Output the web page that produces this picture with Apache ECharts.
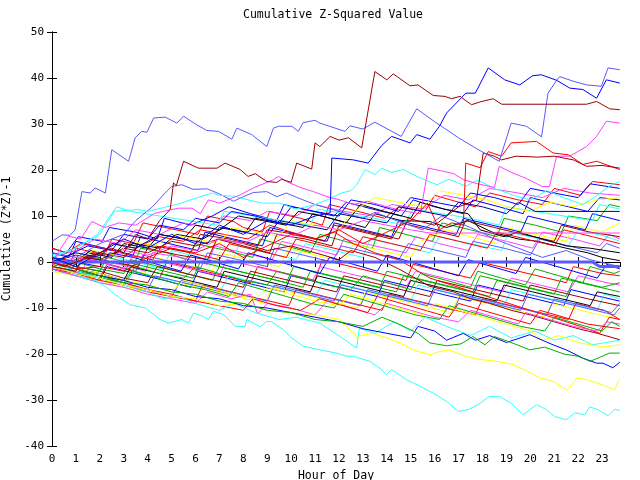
<!DOCTYPE html>
<html>
<head>
<meta charset="utf-8">
<title>Cumulative Z-Squared Value</title>
<script src="https://cdn.jsdelivr.net/npm/echarts@6/dist/echarts.min.js"></script>
<style>
  html, body { margin: 0; padding: 0; background: #fff; }
  #chart { width: 640px; height: 480px; }
</style>
</head>
<body>
<div id="chart"></div>
<script>
  "use strict";

  // ── Axis ranges / ticks ──
  var X_MIN = 0, X_MAX = 23.75, X_STEP = 1;
  var Y_MIN = -40, Y_MAX = 50, Y_STEP = 10;

  // ── Colours (gnuplot-ish palette) ──
  var RED = "#ff0000", GREEN = "#00b000", BLUE = "#0000ff", MAGENTA = "#ff40ff",
      CYAN = "#30ffff", DARKRED = "#a00000", YELLOW = "#ffff00", BLACK = "#000000",
      LIGHTBLUE = "#5a5aff", NAVY = "#0000a0";

  // ── Series as [hour, value] vertices ──
  var topLightBlue = [[0,4.5],[0.42,5.9],[0.75,5.8],[0.97,7],[1.25,15.3],[1.6,15],[1.8,16.1],[2.23,15],[2.3,15.3],[2.5,24.4],[3.2,21.9],[3.48,27],[3.75,28.4],[3.97,28.2],[4.25,31.3],[4.73,31.5],[5.22,30.2],[5.5,31.7],[6.06,29.8],[6.47,28.6],[6.96,28.4],[7.52,26.7],[7.73,29.1],[8.35,27.7],[8.98,25.1],[9.26,29.1],[9.47,29.5],[10.03,29.5],[10.3,28.4],[10.5,30.3],[11.0,30.8],[11.2,30.2],[12.25,28.4],[12.46,29.6],[13.0,28.9],[13.5,30.4],[14.6,27.3],[15.25,33.3],[16.0,30.5],[17.0,27],[17.8,24.5],[18.7,21.9],[19.2,30.2],[19.84,29.5],[20.47,27.2],[20.74,36.7],[21.1,39.5],[21.23,40.3],[21.8,39.3],[22.35,38.5],[22.97,38.2],[23.25,42.2],[23.74,41.8]];
  var topBlue = [[0,1],[1,-1],[2,2],[3,5],[4,3],[5,6],[6,4],[7,8],[8,6],[9,9],[10,8],[11,10],[11.63,10.7],[11.7,22.6],[12.6,22.2],[13.22,21.5],[13.78,25.3],[14.2,27.3],[14.97,25.9],[15.25,27.7],[15.8,26.7],[16.2,29.5],[16.5,32.4],[17.1,35.6],[17.3,36.7],[17.7,36.7],[18.24,42.2],[18.93,39.6],[19.56,38.5],[20.1,40.5],[20.46,40.7],[21.1,39.5],[21.65,37.8],[22.2,37.5],[22.77,35.6],[23.18,39.6],[23.74,38.9]];
  var topDarkRed = [[0,0],[0.5,-1],[1.5,1],[2.5,3],[3,2],[3.5,6],[4,5],[4.5,9],[4.94,11.4],[5.08,17.2],[5.2,16.6],[5.5,21.9],[6.12,20.4],[6.9,20.4],[7.24,21.5],[7.87,20.1],[8.2,18.6],[8.5,19.2],[8.98,17.5],[9.4,17.3],[9.6,18],[10.0,17.3],[10.23,21.5],[10.86,20.2],[11.0,25.9],[11.2,25.1],[11.63,27.3],[12.0,26.5],[12.4,27],[12.95,24.8],[13.5,41.4],[14.0,39.6],[14.27,40.9],[14.97,38.3],[15.3,38.5],[15.94,36.2],[16.43,36],[16.7,35.5],[17.06,36],[17.54,34.2],[17.9,34.8],[18.45,35.5],[18.8,34.3],[22.35,34.3],[22.77,34.9],[23.32,33.3],[23.74,33.1]];
  var upperLightBlue = [[0,2],[1,1],[2,4],[3,6],[3.5,9],[4.2,12],[4.73,15],[5.0,16.4],[5.43,16.8],[5.9,15.8],[6.5,15.9],[7.0,14.8],[7.59,13.2],[8.0,14.2],[8.42,15.1],[8.98,15.3],[9.4,14.2],[9.8,15],[10.3,13.9],[11,12.5],[12,11],[13,9.5],[13.5,10.8],[14.5,8.8],[15.5,7],[16.3,10],[17.5,7.5],[18.5,5],[19.5,3],[20.5,1],[21.5,2.5],[22.5,0.5],[23.74,-1]];
  var upperCyan = [[0,1],[1,3],[2,6],[2.6,11],[3.6,11.4],[4,11],[5.2,12.5],[6.68,15],[7,14.5],[7.6,14.3],[8.2,13.5],[8.8,12.8],[9.5,12.8],[10.2,11.5],[11,12.5],[11.5,13.5],[12.1,15],[12.5,15.5],[12.74,16.8],[13.1,20.1],[13.5,19],[13.78,20.4],[14.2,19.5],[14.7,20.1],[15.25,18.6],[16.1,16.8],[16.6,18],[17.3,16.5],[17.8,17.8],[18.5,16],[19.3,14.5],[20,13.5],[20.7,15.5],[21.4,14],[22.2,12.5],[22.8,14.5],[23.3,16.5],[23.74,17.5]];
  var upperMagenta = [[0,0],[0.7,5.6],[1.2,5],[1.67,8.8],[2.2,7.5],[2.8,8.5],[3.5,8],[4.3,10.6],[5.28,11.7],[5.85,11.7],[6.2,10.5],[6.54,13.5],[7.0,12.8],[7.87,14.6],[8.42,16.1],[9.26,17.9],[9.47,18.6],[9.8,17.5],[10.44,16.1],[10.93,15.3],[11.5,14.2],[12.04,13.5],[12.6,12.5],[13.2,13.2],[14,12],[14.8,11],[15.4,10.5],[15.73,20.4],[16.3,19.8],[16.8,19.2],[17.2,17.9],[17.8,17],[18.5,16.2],[18.7,20.8],[19.2,19.5],[19.9,18],[20.5,16.4],[20.8,16.4],[21.1,23],[21.65,23],[22.35,25.1],[22.77,27.3],[23.18,30.6],[23.74,30.2]];
  var upperRed = [[0,0],[1,-1.5],[2,-1],[3,-2],[4,1],[5,3],[6,2],[7,4],[8,1],[9,3.5],[10,6],[11,5],[12,7],[13,4],[14,6.5],[15,9],[15.7,12.8],[16.2,7],[16.7,8.5],[17.2,8],[17.3,21.5],[17.9,20.5],[18.24,24],[18.8,23],[19.2,25.9],[20.26,26.2],[20.95,23.7],[21.6,23.3],[22.2,21.2],[22.77,21.9],[23.74,20.1]];
  var upperDarkRed = [[0,-1],[1,-2],[1.3,1],[2.5,0],[3.6,-1],[4,3],[5.3,1.5],[6.5,0.5],[6.9,5],[8,3.5],[9.1,2],[9.4,6],[10.6,5],[11.7,3.5],[12,8],[13.2,6.5],[14.5,5],[14.9,9.5],[16,8],[17.0,12],[17.75,13.5],[18.03,23.7],[18.5,23],[18.8,22.2],[19.4,23],[20.3,22.8],[21,23],[21.8,22.2],[22.35,20.8],[23,21],[23.74,20.4]];
  var lowCyan = [[0,0],[0.5,-1.5],[1.32,-3.5],[1.8,-4],[2.23,-5.3],[2.64,-7.1],[3.27,-9.3],[3.9,-10],[4.52,-12.5],[4.87,-13.3],[5.43,-12.5],[5.7,-13.3],[5.92,-11.1],[6.3,-11.8],[6.54,-12.5],[6.75,-10.7],[7.2,-11.5],[7.66,-14],[8.07,-14],[8.15,-12.5],[8.7,-14.1],[8.98,-12.9],[9.19,-13],[9.67,-14.7],[9.95,-16.2],[10.5,-18.3],[10.86,-18.7],[11.2,-19.1],[11.9,-19.8],[12.32,-20.5],[12.6,-20.5],[13.3,-21.6],[13.78,-23.4],[13.99,-24.5],[14.2,-23.4],[14.83,-25.6],[15.38,-27],[15.94,-28.5],[16.5,-30.3],[16.99,-32.5],[17.4,-32.1],[17.82,-31],[18.3,-29.2],[18.7,-29.2],[19.2,-30.7],[19.7,-33.2],[20.26,-31],[20.68,-32.1],[21.02,-33.6],[21.5,-34.3],[21.86,-32.8],[22.28,-33.2],[22.48,-31.5],[22.83,-32.1],[23.25,-33.4],[23.53,-32],[23.74,-32.3]];
  var lowCyan2 = [[0,0],[1,-2],[2,-3.5],[3,-5],[4,-6.5],[4.6,-8],[5.3,-7.5],[6,-9],[7,-10.5],[7.6,-9],[8.5,-11],[9.5,-12.5],[10.2,-12],[11.2,-13.3],[12.04,-16.2],[12.74,-18.7],[12.85,-14.4],[13.5,-15.5],[14.3,-13],[15,-15],[15.6,-12],[16.5,-14],[17.5,-16],[18.3,-14],[19.2,-16.5],[20.2,-15],[21,-17],[21.8,-16],[22.6,-18],[23.74,-17]];
  var lowYellow = [[0,-1],[1,-2.5],[2,-3.5],[3,-5],[4,-6],[5,-7.5],[6,-8],[7,-9.5],[8,-9],[9,-10.5],[10,-11],[11,-11.5],[12.04,-12.5],[12.74,-16.2],[13.4,-15.5],[14,-16.5],[14.55,-17.6],[15.1,-19.1],[15.8,-20.2],[16.2,-19.5],[16.6,-19.1],[17.3,-20.5],[17.9,-21.2],[18.5,-21.5],[19.28,-22.3],[19.9,-23.8],[20.4,-25.2],[21.0,-26],[21.5,-27.8],[21.7,-27],[21.93,-25.2],[22.3,-25.5],[22.77,-26.3],[23.18,-27],[23.53,-27.8],[23.67,-26],[23.74,-25.6]];
  var lowYellow2 = [[0,0],[1,-1.5],[2,-2.5],[3,-4],[4,-5],[5,-6.5],[5.5,-4],[6.5,-5.5],[7.5,-7],[8.5,-8],[9,-5.5],[10,-7],[11,-8.5],[12,-9.5],[12.5,-7],[13.5,-8.5],[14.5,-10],[15.5,-11.5],[16,-9],[17,-10.5],[18,-12],[19,-13.5],[20,-15],[20.5,-17],[21.2,-16],[22,-17.5],[23,-18.5],[23.74,-18]];
  var lowBlue = [[0,0],[1,-1.5],[2,-3],[3,-4],[4,-5.5],[5,-6],[6,-7.5],[7,-8],[8,-9.5],[9,-10],[10,-11],[11,-12],[12,-13],[13,-14.5],[14,-15.5],[15,-16.5],[15.3,-14],[16,-15],[16.5,-17],[17.2,-15.5],[17.7,-17],[18.3,-16],[19,-17.5],[19.98,-15.8],[20.5,-17],[20.95,-18],[21.5,-19.1],[22.2,-20.9],[22.77,-22],[23.04,-22],[23.45,-23],[23.74,-21.8]];
  var lowGreen = [[0,0],[1,-1.5],[2,-3],[3,-4.5],[4,-5],[5,-6.5],[6,-7],[7,-8.5],[8,-9],[9,-10.5],[10,-11],[11,-12.5],[12,-13],[13,-14],[13.8,-12],[14.5,-13.5],[15.3,-15.5],[15.8,-17.6],[16.5,-18.2],[17.1,-17.8],[17.6,-16.2],[18.1,-18],[18.5,-16.2],[19.2,-17.5],[19.98,-19.1],[20.6,-18.5],[21.4,-20],[22.0,-20.5],[22.5,-21.6],[23,-20.5],[23.3,-19.8],[23.74,-19.8]];
  var flatNavy = [[0,0],[1,2],[2,1],[2.5,4],[3.5,3],[4.5,6],[5.5,5],[6.5,4],[7,7.5],[8,6.5],[9,5.5],[9.5,9],[10.5,8],[11.5,7],[12,10.5],[13,9.5],[14,8.5],[14.5,12],[15.5,11],[16.5,10],[17,13],[18,12],[19,10.5],[19.5,13],[20.2,11],[23.74,11]];
  var flatMagenta = [[0,-0.5],[1,1],[2,0],[3,2.5],[4,1.5],[5,3.5],[6,2.5],[7,5],[8,4],[9,6.5],[10,5.5],[11,8],[12,7],[13,9],[14,8],[15,7],[15.8,6.3],[23.74,6.3]];
  var zeroLine = [[0,0],[22.6,0],[22.9,-1],[23.74,-1]];

  var crowd1 = [[0,1],[0.75,-0.5],[1,3],[2.2,1.5],[2.5,5],[3.4,4],[3.8,8.5],[5,7.2],[6.1,6],[6.5,10],[7.6,8.8],[8,7.5],[8.8,6.5],[9.1,11],[10.4,9.5],[11.3,8],[11.6,12.5],[12.8,11],[13.9,9.5],[14.5,12],[15.6,11],[16,14.5],[17,13],[17.7,12],[18.3,15],[19.5,13.5],[20.5,12.5],[21,16],[22.1,14.5],[22.6,17.5],[23.74,16.8]];
  var crowd2 = [[0,-0.5],[1,-1.5],[1.4,1.5],[2.5,0],[3.4,-1],[3.7,3],[4.8,2],[5.6,0.5],[6,4],[7.3,2.5],[8.4,1],[8.7,5],[9.8,3.5],[10.8,2],[11.2,6],[12.6,4],[13.4,3],[13.7,7.5],[14.8,6],[15.9,4.5],[16.3,8.5],[17.5,7],[18.6,5.5],[18.9,9.5],[20.2,8],[21.3,6.5],[21.6,10],[22.8,9],[23.3,12.5],[23.74,12]];
  var crowd3 = [[0,3],[0.6,2],[1.1,5.5],[2.1,4.5],[2.4,7.5],[3.5,6.5],[4.4,5],[4.7,9.5],[5.8,8],[6.7,10],[7.4,12],[8.3,10.5],[9.4,9],[9.7,12.5],[10.9,11],[11.8,10],[12.3,13],[13.4,11.5],[14.6,10],[15.1,13.5],[16,12],[17.2,10.5],[17.6,13.5],[18.7,12],[19.7,10.5],[20,14],[21.2,12.5],[22.4,11],[22.9,14],[23.74,13.5]];
  var crowd4 = [[0,-1],[1.2,-2.5],[1.5,0.5],[2.8,-0.5],[3.9,-2],[4.2,2],[5.4,1],[6.5,-0.5],[6.8,3.5],[8,2],[9.2,0.5],[9.6,4.5],[10.8,3],[11.9,1.5],[12.2,5],[13.5,3.5],[14.8,2],[15.2,5.5],[16.2,4],[17.4,2.5],[17.8,6],[19,4.5],[20.1,3],[20.5,6.5],[21.8,5],[22.9,3.5],[23.3,6],[23.74,5]];
  var crowd5 = [[0,0.5],[1,-1],[2,-2],[2.3,1.5],[3.5,0],[4.6,-1.5],[5,2.5],[6.2,1],[7.5,-0.5],[7.8,3.5],[9,2],[10.2,0.5],[10.6,4],[11.8,2.5],[13,1],[13.3,5],[14.6,3.5],[15.8,2],[16.2,5.5],[17.5,4],[18.8,2.5],[19.1,6.5],[20.4,5],[21.6,3.5],[22,7],[23.2,5.5],[23.74,4.5]];
  var crowd7 = [[0,-0.5],[1,-1.5],[1.5,0.5],[2.8,-1],[3.9,-2.5],[4.3,1],[5.5,-0.5],[6.7,-2],[7,2],[8.2,0.5],[9.5,-1],[9.9,3],[11,1.5],[12.2,0],[12.6,4],[13.8,2.5],[15,1],[15.4,4.5],[16.5,7],[17.5,5.5],[18.6,4],[19,7.5],[20.2,6],[21.5,4.5],[21.8,8],[23,6.5],[23.74,8.5]];
  var crowd8 = [[0,1],[1,0],[1.6,2.5],[2.5,1.5],[3.4,4],[4.5,3],[5.2,6],[6.3,5],[7.2,7.5],[8.1,6.5],[8.5,9.5],[9.6,8.5],[10.5,7.5],[10.9,10.5],[12,9],[13.1,7.5],[13.5,10.5],[14.6,9],[15.8,8.8],[16.5,7.5],[17.4,9],[18.4,6.5],[19.5,5],[20.3,4.5],[21.5,3],[22.4,2],[23,1],[23.74,0.3]];
  var crowd9 = [[0,0],[0.8,-1.5],[1.2,1],[2.4,-0.5],[3.5,-2],[3.8,1.5],[5,0],[6.2,-1.5],[6.5,2],[7.8,0.5],[9,-1],[9.3,3],[10.5,1.5],[11.7,0],[12.1,3.5],[13.3,2],[14.5,0.5],[14.9,4],[16.1,2.5],[17.3,1],[17.6,4.5],[18.9,3],[20,1.5],[20.4,5],[21.6,3.5],[22.8,2],[23.2,4],[23.74,3]];
  var crowd10 = [[0,-1],[1,-2.5],[2,-3.5],[2.3,-0.5],[3.4,-2],[4.5,-3.5],[4.8,0],[6,-1.5],[7.2,-3],[8.3,-4.5],[8.6,-1],[9.8,-2.5],[11,-4],[11.3,0.5],[12.5,-1],[13.7,-2.5],[14.8,-4],[15.1,-0.5],[16.3,-2],[17.5,-3.5],[17.9,0],[19.1,-1.5],[20.3,-3],[21.5,-4.5],[21.8,-1],[23,-2.5],[23.74,-3]];
  var crowd11 = [[0,1],[1,0],[2,-1.5],[3,-2.5],[3.3,0.5],[4.5,-1],[5.6,-2.5],[6.7,-4],[7,-1],[8.2,-2.5],[9.4,-4],[10.5,-5.5],[10.8,-2],[12,-3.5],[13.2,-5],[14.4,-6.5],[14.7,-3],[15.9,-4.5],[17.1,-6],[18.3,-7.5],[18.6,-4],[19.8,-5.5],[21,-7],[21.3,-3.5],[22.5,-5],[23.74,-6.5]];
  var crowd12 = [[0,-1.5],[1,-3],[2,-4],[2.3,-1],[3.5,-2.5],[4.7,-4],[5.8,-5.5],[6.1,-2],[7.3,-3.5],[8.5,-5],[9.7,-6.5],[10,-3],[11.2,-4.5],[12.4,-6],[13.6,-7.5],[13.9,-4],[15.1,-5.5],[16.3,-7],[17.5,-8.5],[17.8,-5],[19,-6.5],[20.2,-8],[21.4,-9.5],[21.7,-6],[22.9,-7.5],[23.74,-8.5]];
  var crowd13 = [[0,2],[1,1],[2,0],[3,-1.5],[3.4,1.5],[4.6,0],[5.8,-1.5],[7,-3],[7.3,0.5],[8.5,-1],[9.7,-2.5],[10.9,-4],[11.2,-1],[12.4,-2.5],[13.6,-4],[14.8,-5.5],[15.2,-2],[16.4,-3.5],[17.6,-5],[18.8,-6.5],[19.2,-3.5],[20.4,-5],[21.6,-6.5],[22,-3],[23.2,-4.5],[23.74,-5]];
  var crowd14 = [[0,-2],[1,-3],[2,-4.5],[3,-5.5],[3.4,-2],[4.6,-3.5],[5.8,-5],[7,-6.5],[7.4,-3],[8.6,-4.5],[9.8,-6],[11,-7.5],[11.4,-4],[12.6,-5.5],[13.8,-7],[15,-8.5],[15.3,-5],[16.5,-6.5],[17.7,-8],[18.9,-9.5],[19.2,-6],[20.4,-7.5],[21.6,-9],[22.8,-10.5],[23.1,-7],[23.74,-8]];
  var crowd15 = [[0,0.5],[1,-1],[2,-2],[3,-3.5],[4,-4.5],[4.4,-1],[5.6,-2.5],[6.8,-4],[8,-5.5],[8.3,-2],[9.5,-3.5],[10.7,-5],[11.9,-6.5],[12.2,-3],[13.4,-4.5],[14.6,-6],[15.8,-7.5],[16.1,-4],[17.3,-5.5],[18.5,-7],[19.7,-8.5],[20,-5],[21.2,-6.5],[22.4,-8],[23.74,-9.5]];
  var crowd16 = [[0,-2],[1,-3],[2,-4],[3,-5.5],[4,-6.5],[5,-7.5],[5.3,-4.5],[6.5,-6],[7.7,-7.5],[8.9,-9],[9.2,-5.5],[10.4,-7],[11.6,-8.5],[12.8,-10],[13.1,-6.5],[14.3,-8],[15.5,-9.5],[16.7,-11],[17,-7.5],[18.2,-9],[19.4,-10.5],[20.6,-12],[20.9,-9],[22.1,-10.5],[23.3,-12],[23.74,-11]];
  var crowd17 = [[0,0],[1,-1.5],[2,-2.5],[3,-4],[3.3,-1],[4.5,-2.5],[5.7,-4],[6.9,-5.5],[7.2,-2],[8.4,-3.5],[9.6,-5],[10.8,-6.5],[11.1,-3],[12.3,-4.5],[13.5,-6],[14.7,-7.5],[15,-4],[16.2,-5.5],[17.4,-7],[18.6,-8.5],[18.9,-5],[20.1,-6.5],[21.3,-8],[22.5,-9.5],[22.8,-6.5],[23.74,-7.5]];
  var crowd18 = [[0,-1],[1,-2],[2,-3.5],[3,-4.5],[4,-6],[4.3,-3],[5.5,-4.5],[6.7,-6],[7.9,-7.5],[8.2,-4],[9.4,-5.5],[10.6,-7],[11.8,-8.5],[12.1,-5],[13.3,-6.5],[14.5,-8],[15.7,-9.5],[16,-6],[17.2,-7.5],[18.4,-9],[19.6,-10.5],[19.9,-7],[21.1,-8.5],[22.3,-10],[23.5,-11.5],[23.74,-10]];
  var crowd19 = [[0,-1.5],[1,-2.5],[2,-4],[3,-5],[4,-6.5],[5,-7.5],[6,-8.5],[6.3,-5],[7.5,-6.5],[8.7,-8],[9.9,-9.5],[10.2,-6],[11.4,-7.5],[12.6,-9],[13.8,-10.5],[14.1,-7],[15.3,-8.5],[16.5,-10],[17.7,-11.5],[18,-8],[19.2,-9.5],[20.4,-11],[21.6,-12.5],[21.9,-9],[23.1,-10.5],[23.74,-12.5]];
  var crowd20 = [[0,0.5],[1,-1],[2,-2],[2.3,1],[3.5,-0.5],[4.7,-2],[5.9,-3.5],[6.2,0],[7.4,-1.5],[8.6,-3],[9.8,-4.5],[10.1,-1],[11.3,-2.5],[12.5,-4],[13.7,-5.5],[14,-2],[15.2,-3.5],[16.4,-5],[17.6,-6.5],[17.9,-3],[19.1,-4.5],[20.3,-6],[21.5,-7.5],[21.8,-4],[23,-5.5],[23.74,-4.5]];
  var crowd21 = [[0,2],[0.7,1],[1,4.5],[2.2,3],[3.4,1.5],[3.7,5.5],[4.9,4],[6.1,2.5],[6.4,6.5],[7.6,5],[8.8,3.5],[9.1,7.5],[10.3,6],[11.5,4.5],[11.8,8.5],[13,7],[14.2,5.5],[14.5,9],[15.7,7.5],[16.9,6],[17.2,9.5],[18.4,8],[19.6,6.5],[19.9,10],[21.1,8.5],[22.3,7],[22.6,10.5],[23.74,9]];
  var crowd22 = [[0,1],[1,2.5],[1.8,5],[2.8,4],[3.5,7],[4.5,6],[5.5,8.5],[6.5,7.5],[7.2,10],[8.3,9],[9,11],[10.2,10],[11,12.5],[12.2,11],[13.4,10],[14.2,12.5],[15.5,11.5],[16.4,14.5],[17.4,13.5],[18.3,16],[19.5,15],[20.5,14],[21.4,16],[22.5,15],[23.74,14.5]];
  var crowd23 = [[0,1.5],[1,3],[1.9,6],[2.7,12],[3.3,11],[4.5,10],[5.7,9],[6.9,8],[7.2,11],[8.4,10],[9.6,9],[10.8,8],[11.1,11.5],[12.3,10.5],[13.5,9.5],[14.7,8],[15.1,11.5],[16.3,10.5],[17.5,9.5],[18.7,8],[19,12],[20.2,11],[21.4,10],[22.6,9],[22.9,12.5],[23.74,11.5]];
  var crowd24 = [[0,-0.5],[1,0.5],[2,2],[3,1],[3.8,4],[4.8,3],[5.8,2],[6.2,6],[7.4,5],[8.6,3.5],[9,7],[10.2,6],[11.4,4.5],[11.8,8],[13,6.5],[14.2,5],[14.6,8.5],[15.8,7],[17,5.5],[17.3,9],[18.5,7.5],[19.7,6],[21,4.5],[21.3,8],[22.5,6.5],[23.74,5.5]];
  var crowd25 = [[0,0],[1,1.5],[2,0.5],[3,3],[4,2],[5,4.5],[6,3.5],[7,5],[8,4],[9,2.5],[10,3.5],[11,2],[12,0.5],[12.5,2.5],[13.5,1],[14.5,-1.5],[15.8,-5.3],[16.8,-6.5],[17.5,-8],[18.3,-9],[19.2,-10.5],[20,-11.5],[21,-13],[22,-14.5],[22.8,-15.5],[23.74,-16.9]];
  var crowd26 = [[0,-1],[1,0],[2,1.5],[2.5,4],[3.5,3],[4.5,5.5],[5.5,4.5],[6.2,7],[7.2,6],[8.2,5],[9.1,8],[10,6.5],[11,5],[11.8,6.5],[12.6,4],[13.5,2],[14.5,0.5],[15.8,-3.5],[16.7,-5],[17.6,-6.5],[18.5,-8],[19.4,-9.5],[20.3,-11],[21.2,-12.5],[22.1,-14],[22.9,-15.5],[23.3,-12],[23.74,-12.5]];
  var crowd27 = [[0,-1],[1,-2],[2,-3],[3,-4],[3.5,-1],[4.5,-2.5],[5.5,-3.5],[6,-1],[7,-2.5],[8,-4],[9,-5],[9.4,-2],[10.5,-3.5],[11.5,-5],[12.5,-6],[13,-3],[14,-4.5],[15,-6],[15.4,-2.5],[16.5,-4],[17.5,-5.5],[17.8,-2],[18.8,-3.5],[19.8,-5],[20.2,-1.5],[21.2,-3],[22.2,-4.5],[22.5,-1],[23.5,-2.5],[23.74,-2]];
  var crowd28 = [[0,-0.5],[0.5,1],[1.5,3.5],[2.5,2.5],[3,6],[4,5],[4.5,8],[5.5,7],[6,9.5],[7,8.5],[7.5,11],[8.5,10],[9.5,8.5],[10,12],[11,11],[12,10],[12.5,13.5],[13.5,12.5],[14.5,11],[15,14],[16,13],[17,12],[17.5,15],[18.5,14],[19.5,12.5],[20,16],[21,15],[22,14],[22.5,17],[23.74,16]];
  var crowd29 = [[0,0.5],[1,-0.5],[1.5,2],[2.5,1],[3,4],[4,3],[4.5,6],[5.5,5],[6,8],[7,7],[7.8,10],[8.8,9],[9.8,8],[10.3,11],[11.3,10],[12.3,8.5],[12.9,12.5],[13.9,11],[15,9.5],[15.4,13],[16.4,11.5],[17.4,10.5],[17.9,7],[18.9,5.5],[19.5,6.5],[20.5,5],[21.5,3.5],[22.5,3],[23.74,2]];
  var crowd30 = [[0,1],[1,0],[1.7,2.5],[2.7,1.5],[3.3,4.5],[4.3,3.5],[5,6],[6,5],[7,4],[7.5,7.5],[8.5,6.5],[9.5,5.5],[10,9],[11,8],[12,7],[12.5,10.5],[13.5,14],[14.5,13],[15.5,12],[16.2,15.5],[17.2,14.5],[18.2,13.5],[19,12],[20,11],[20.8,13],[21.8,12],[22.8,13.5],[23.74,14]];
  var crowd31 = [[0,3],[0.6,2],[1.2,4],[2.2,3],[3.2,1.5],[4.2,0.5],[4.6,3.5],[5.8,2],[7,0.5],[7.4,4],[8.6,2.5],[9.8,1],[10.2,5],[11.4,3.5],[12.6,2],[13,5.5],[14.2,4],[15.4,2.5],[15.8,6],[17,4.5],[18.2,3],[18.6,6.5],[19.8,5],[21,3.5],[21.4,7],[22.6,5.5],[23.74,4]];
  var crowd32 = [[0,-1],[1,-2.5],[2,-3.5],[3,-5],[4,-6],[5,-7.5],[5.4,-4],[6.6,-5.5],[7.8,-7],[9,-8.5],[9.3,-5],[10.5,-6.5],[11.7,-8],[12.9,-9.5],[13.2,-6],[14.4,-7.5],[15.6,-9],[16.8,-10.5],[17.1,-7],[18.3,-8.5],[19.5,-10],[20.7,-11.5],[21,-8],[22.2,-9.5],[23.4,-11],[23.74,-9]];
  var crowd33 = [[0,-1.5],[1,-3],[2,-4.5],[3,-5.5],[4,-7],[5,-8],[6,-9],[6.5,-6.5],[7.5,-8],[8.3,-7],[8.6,-11.3],[9,-9],[10,-10],[11,-11.5],[11.5,-8.5],[12.5,-10],[13.5,-11.5],[14,-9],[15,-10.5],[16,-12],[17,-13],[17.5,-10.5],[18.5,-12],[19.5,-13.5],[19.8,-11],[20.8,-12.5],[21.8,-14],[22.8,-15],[23.2,-13],[23.74,-13.5]];
  var crowd34 = [[0,0],[1,-1.5],[2,-3],[3,-4.5],[4,-6],[5,-7],[6,-8.5],[7,-9.5],[8,-10.5],[8.4,-8],[9.4,-9.5],[10.4,-10.5],[11.2,-8],[12.2,-9.5],[13.2,-11],[13.6,-7.5],[14.6,-9],[15.6,-10.5],[16.6,-12],[17,-9],[18,-10.5],[19,-12],[20,-13.5],[20.4,-10.5],[21.4,-12],[22.4,-13.5],[23.74,-14.5]];
  var crowd35 = [[0,-1],[1,-2],[2,-3.5],[3,-4.5],[3.4,-2],[4.4,-3.5],[5.4,-5],[6.4,-6],[7.4,-7.5],[7.8,-4.5],[8.8,-6],[9.8,-7.5],[10.8,-9],[11.8,-10],[12.2,-7],[13.2,-8.5],[14.2,-10],[15.2,-11.5],[16.2,-12.5],[16.6,-9.5],[17.6,-11],[18.6,-12.5],[19.6,-14],[20.6,-15],[21,-12],[22,-13.5],[23,-15],[23.4,-13],[23.74,-14]];
  var crowd36 = [[0,1],[1,0],[2,-1],[2.4,2],[3.4,1],[4.4,-0.5],[5.4,-2],[5.8,1.5],[6.8,0],[7.8,-1.5],[8.2,2],[9.2,0.5],[10.2,-1],[11.2,-2.5],[11.6,1],[12.6,-0.5],[13.6,-2],[14,1.5],[15,0],[16,-1.5],[17,-3],[17.4,0.5],[18.4,-1],[19.4,-2.5],[19.8,1],[20.8,-0.5],[21.8,-2],[22.8,-3.5],[23.2,-0.5],[23.74,-1.5]];

  // [data, colour, width] in drawing order
  var lines = [
    [crowd1, RED, 1], [crowd2, GREEN, 1], [crowd3, BLUE, 1], [crowd4, MAGENTA, 1],
    [crowd5, CYAN, 1], [crowd7, YELLOW, 1], [crowd8, BLACK, 1], [crowd9, LIGHTBLUE, 1],
    [crowd10, RED, 1], [crowd11, GREEN, 1], [crowd12, BLUE, 1], [crowd13, MAGENTA, 1],
    [crowd14, CYAN, 1], [crowd15, DARKRED, 1], [crowd16, YELLOW, 1], [crowd17, BLACK, 1],
    [crowd18, LIGHTBLUE, 1], [crowd19, RED, 1], [crowd20, GREEN, 1], [crowd21, BLUE, 1],
    [crowd22, MAGENTA, 1], [crowd23, CYAN, 1], [crowd24, DARKRED, 1], [crowd25, DARKRED, 1],
    [crowd26, RED, 1], [crowd27, GREEN, 1], [crowd28, BLUE, 1], [crowd29, BLACK, 1],
    [crowd30, YELLOW, 1], [crowd31, RED, 1], [crowd32, LIGHTBLUE, 1], [crowd33, MAGENTA, 1],
    [crowd34, RED, 1], [crowd35, GREEN, 1], [crowd36, BLUE, 1],
    [lowCyan, CYAN, 1], [lowCyan2, CYAN, 1], [lowYellow, YELLOW, 1], [lowYellow2, YELLOW, 1],
    [lowBlue, BLUE, 1], [lowGreen, GREEN, 1],
    [upperLightBlue, LIGHTBLUE, 1], [upperCyan, CYAN, 1], [upperMagenta, MAGENTA, 1],
    [upperRed, RED, 1], [upperDarkRed, DARKRED, 1],
    [flatNavy, NAVY, 1], [flatMagenta, MAGENTA, 1], [zeroLine, LIGHTBLUE, 3],
    [topLightBlue, LIGHTBLUE, 1], [topBlue, BLUE, 1], [topDarkRed, DARKRED, 1]
  ];

  var FONT = "DejaVu Sans Mono";
  var chart = echarts.init(document.getElementById("chart"), null, { renderer: "canvas" });

  function axisBase(extra) {
    var a = {
      type: "value",
      axisLine: { show: true, lineStyle: { color: "#000", width: 1 } },
      axisTick: { show: true, inside: true, length: 5, lineStyle: { color: "#000" } },
      splitLine: { show: false },
      axisLabel: { color: "#000", fontFamily: FONT, fontSize: 11 }
    };
    for (var k in extra) a[k] = extra[k];
    return a;
  }

  var series = [];
  for (var i = 0; i < lines.length; i++) {
    series.push({
      type: "line",
      data: lines[i][0],
      symbol: "none",
      showSymbol: false,
      silent: true,
      lineStyle: { color: lines[i][1], width: lines[i][2] },
      itemStyle: { color: lines[i][1] },
      z: 2 + i * 0.01
    });
  }

  var option = {
    animation: false,
    backgroundColor: "#fff",
    title: {
      text: "Cumulative Z-Squared Value",
      left: 243,
      top: 9,
      padding: 0,
      textStyle: { color: "#000", fontFamily: FONT, fontSize: 11.5, fontWeight: "normal" }
    },
    grid: { left: 52, right: 20, top: 32, bottom: 34, containLabel: false, outerBoundsMode: "none" },
    xAxis: [
      axisBase({
        min: X_MIN, max: X_MAX, interval: X_STEP, position: "bottom",
        name: "Hour of Day", nameLocation: "middle", nameGap: 22,
        nameTextStyle: { color: "#000", fontFamily: FONT, fontSize: 11.5 },
        axisLabel: { color: "#000", fontFamily: FONT, fontSize: 11, margin: 8, showMaxLabel: false }
      }),
      axisBase({
        min: X_MIN, max: X_MAX, interval: X_STEP, position: "top",
        axisLabel: { show: false }
      })
    ],
    yAxis: [
      axisBase({
        min: Y_MIN, max: Y_MAX, interval: Y_STEP, position: "left",
        name: "Cumulative (Z*Z)-1", nameLocation: "middle", nameGap: 33,
        nameTextStyle: { color: "#000", fontFamily: FONT, fontSize: 11.5 },
        axisLabel: { color: "#000", fontFamily: FONT, fontSize: 11, margin: 8 }
      }),
      axisBase({
        min: Y_MIN, max: Y_MAX, interval: Y_STEP, position: "right",
        axisLabel: { show: false }
      })
    ],
    series: series
  };

  chart.setOption(option);
</script>
</body>
</html>
